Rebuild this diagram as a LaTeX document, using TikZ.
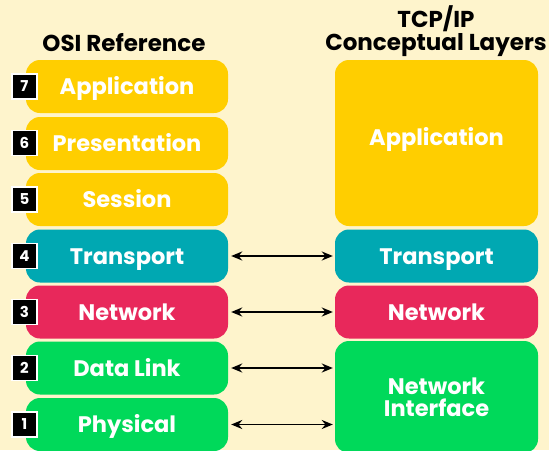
\documentclass[tikz,border=0pt]{standalone}
\usepackage{fontspec}
\setmainfont{Poppins}
\usetikzlibrary{arrows.meta}
\definecolor{bgcream}{HTML}{FEF4CC}
\definecolor{layyellow}{HTML}{FFCE00}
\definecolor{layteal}{HTML}{00A8B2}
\definecolor{layred}{HTML}{E8285B}
\definecolor{laygreen}{HTML}{00D95A}
\tikzset{
  layer/.style={rounded corners=14pt, minimum width=202pt, minimum height=53pt,
    inner sep=0pt, text=white, font=\fontsize{22.5}{23}\selectfont\bfseries, align=center,
    text height=16pt, text depth=0pt},
  tcplayer/.style={layer, minimum width=203pt},
  badge/.style={fill=black, draw=white, line width=1.2pt, minimum size=25pt, inner sep=0pt,
    text=white, font=\fontsize{15}{15}\selectfont\bfseries, text height=10.5pt, text depth=0pt},
  header/.style={font=\fontsize{23}{23}\selectfont\bfseries, text=black, align=center, inner sep=0pt},
  link/.style={{Stealth[length=11pt,width=9pt]}-{Stealth[length=11pt,width=9pt]}, line width=1.8pt,
    shorten <=3pt, shorten >=2pt}
}
\begin{document}
\begin{tikzpicture}[x=1pt,y=-1pt]
  \useasboundingbox (0,0) rectangle (549,450);
  \fill[bgcream] (0,0) rectangle (549,450);
  \clip (0,0) rectangle (549,450);

  % column headings
  \node[header] (osih) at (124,43) {OSI Reference};
  \node[header] (tcph) at (436,31) {TCP/IP\\Conceptual Layers};

  % OSI seven layers
  \node[layer, fill=layyellow] (app)  at (127,86.5)  {Application};
  \node[layer, fill=layyellow] (pre)  at (127,143.5) {Presentation};
  \node[layer, fill=layyellow] (ses)  at (127,199.5) {Session};
  \node[layer, fill=layteal]   (tra)  at (127,256)   {Transport};
  \node[layer, fill=layred]    (net)  at (127,312)   {Network};
  \node[layer, fill=laygreen]  (dl)   at (127,368)   {Data Link};
  \node[layer, fill=laygreen]  (phy)  at (127,424.5) {Physical};

  % layer numbers
  \node[badge] (b7) at (24.5,86.5)  {7};
  \node[badge] (b6) at (24.5,143)   {6};
  \node[badge] (b5) at (24.5,199.5) {5};
  \node[badge] (b4) at (24.5,256)   {4};
  \node[badge] (b3) at (24.5,312)   {3};
  \node[badge] (b2) at (24.5,368)   {2};
  \node[badge] (b1) at (24.5,424.5) {1};

  % TCP/IP four layers
  \node[tcplayer, fill=layyellow, minimum height=166pt, text depth=12pt] (tapp) at (436.5,143) {Application};
  \node[tcplayer, fill=layteal]  (ttra) at (436.5,256) {Transport};
  \node[tcplayer, fill=layred]   (tnet) at (436.5,312) {Network};
  \node[tcplayer, fill=laygreen, minimum height=112pt, text height=38pt] (tni) at (436.5,397) {Network\\[-1pt]Interface};

  % correspondences
  \draw[link] (tra.east) -- (ttra.west);
  \draw[link] (net.east) -- (tnet.west);
  \draw[link] (dl.east) -- (dl.east -| tni.west);
  \draw[link] (phy.east) -- (phy.east -| tni.west);
\end{tikzpicture}
\end{document}
